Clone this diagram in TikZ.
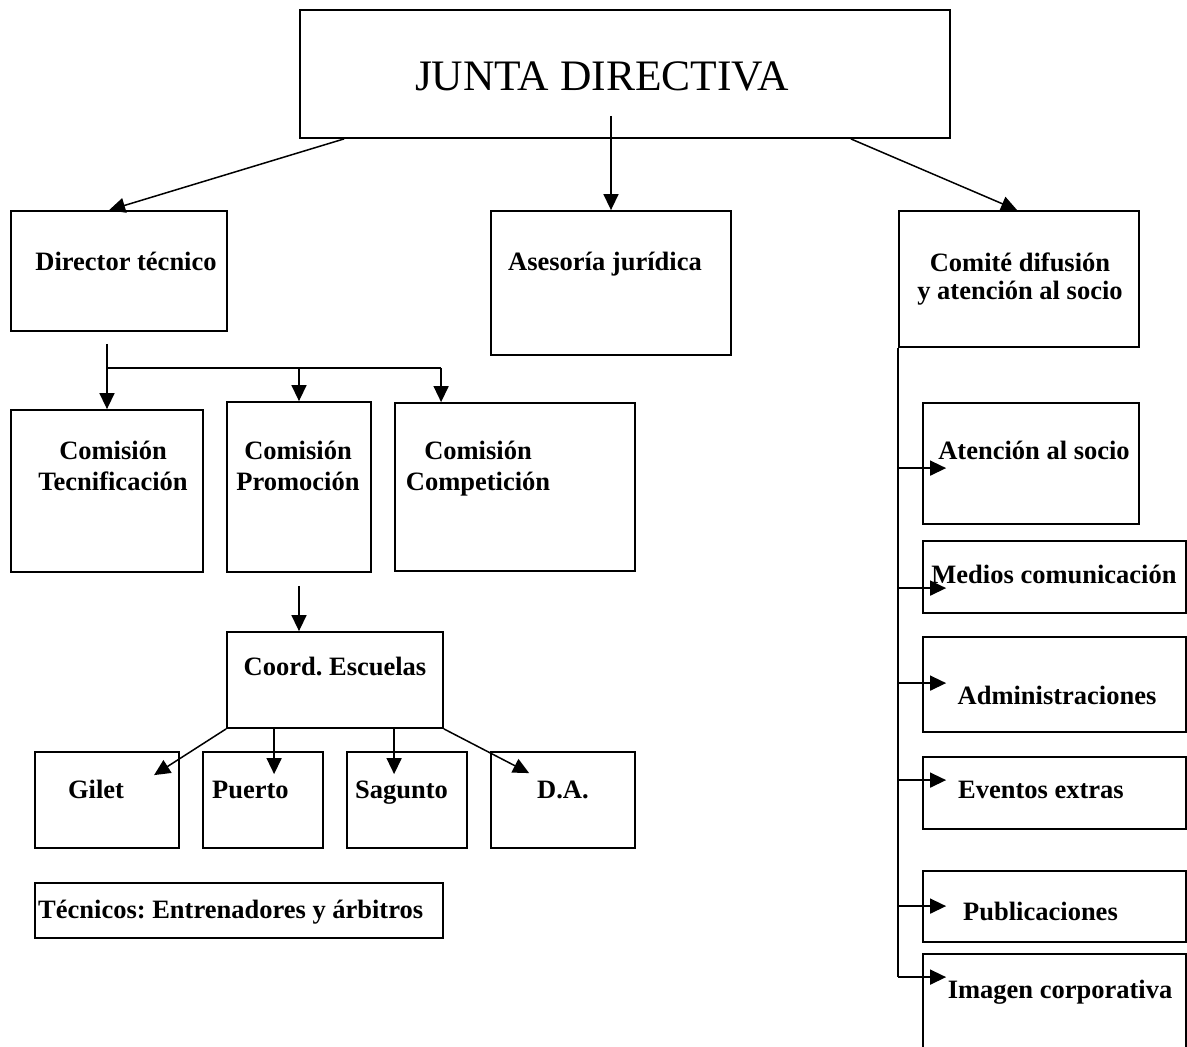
\documentclass[tikz,border=0pt]{standalone}
\usepackage{fontspec}
\setmainfont{Liberation Serif}
\usetikzlibrary{calc,arrows.meta}
\def\caja(#1)(#2,#3)(#4,#5){\node[caja, minimum width={(#4-#2)*1pt}, minimum height={(#5-#3)*1pt}] (#1) at ({(#2+#4)/2},{(#3+#5)/2}) {};}
\frenchspacing

\begin{document}
\begin{tikzpicture}[x=1pt, y=-1pt,
		caja/.style={draw, line width=1.8pt, inner sep=0pt},
		rotulo/.style={font=\bfseries\fontsize{26.5}{31}\selectfont, inner sep=0pt, align=center, anchor=base},
		flecha/.style={line width=1.5pt, -{Triangle[length=16pt,width=15pt]}}]
			%%%%% START %%%%%
			\useasboundingbox (0,0) rectangle (1187,1047);
			
			\caja(jd)(300,10)(950,138)
			\node[rotulo, font=\fontsize{43.5}{48}\selectfont] (jd-t) at (602,90) {JUNTA DIRECTIVA};
			
			\caja(dir)(11,211)(227,331)
			\caja(ase)(491,211)(731,355)
			\caja(com)(899,211)(1139,347)
			\node[rotulo] (dir-t) at (126,270) {Director técnico};
			\node[rotulo] (ase-t) at (605,270) {Asesoría jurídica};
			\node[rotulo, font=\bfseries\fontsize{26.5}{28}\selectfont] (com-t) at (1020,299) {Comité difusión\\y atención al socio};
			
			\draw[flecha] ($(jd.south west)+(45,0)$) -- ($(dir.north west)+(99,0)$);
			\draw[flecha] ($(jd.south -| ase.north)+(0,-23)$) -- (ase.north);
			\draw[flecha] ($(jd.south east)+(-100,0)$) -- ($(com.north west)+(119,0)$);
			
			\caja(tec)(11,410)(203,572)
			\caja(pro)(227,402)(371,572)
			\caja(comp)(395,403)(635,571)
			\node[rotulo] (tec-t) at (113,490) {Comisión\\Tecnificación};
			\node[rotulo] (pro-t) at (298,490) {Comisión\\Promoción};
			\node[rotulo] (comp-t) at (478,490) {Comisión\\Competición};
			
			\coordinate (bus) at ($(dir.south -| tec.north)+(0,36)$);
			\draw[line width=1.5pt] ($(bus)+(0,-24)$) -- (bus) -- ($(bus -| comp.north west)+(47,0)$);
			\draw[flecha] (bus) -- (tec.north);
			\draw[flecha] (bus -| pro.north) -- (pro.north);
			\draw[flecha] ($(bus -| comp.north west)+(47,0)$) -- ($(comp.north west)+(47,0)$);
			
			\caja(coo)(227,632)(443,728)
			\node[rotulo] (coo-t) at (335,675) {Coord. Escuelas};
			\draw[flecha] ($(pro.south)+(0,13)$) -- (pro.south |- coo.north);
			
			\caja(gil)(35,752)(179,848)
			\caja(pue)(203,752)(323,848)
			\caja(sag)(347,752)(467,848)
			\caja(da)(491,752)(635,848)
			\node[rotulo] (gil-t) at (96,798) {Gilet};
			\node[rotulo, anchor=base west] (pue-t) at (212,798) {Puerto};
			\node[rotulo, anchor=base west] (sag-t) at (355,798) {Sagunto};
			\node[rotulo] (da-t) at (563,798) {D.A.};
			
			\draw[flecha] (coo.south west) -- ($(gil.north west)+(120,24)$);
			\draw[flecha] ($(coo.south west)+(48,0)$) -- ($(pue.north west)+(72,23)$);
			\draw[flecha] ($(coo.south west)+(168,0)$) -- ($(sag.north west)+(48,23)$);
			\draw[flecha] (coo.south east) -- ($(da.north west)+(39,22)$);
			
			\caja(tcs)(35,883)(443,938)
			\node[rotulo, anchor=base west] (tcs-t) at (38,918) {Técnicos: Entrenadores y árbitros};
			
			\caja(ate)(923,403)(1139,524)
			\caja(med)(923,541)(1186,613)
			\caja(adm)(923,637)(1186,732)
			\caja(eve)(923,757)(1186,829)
			\caja(pub)(923,871)(1186,942)
			\caja(ima)(923,954)(1186,1070)
			\node[rotulo] (ate-t) at (1034,459) {Atención al socio};
			\node[rotulo] (med-t) at (1054,583) {Medios comunicación};
			\node[rotulo] (adm-t) at (1057,704) {Administraciones};
			\node[rotulo, anchor=base west] (eve-t) at (958,798) {Eventos extras};
			\node[rotulo, anchor=base west] (pub-t) at (963,920) {Publicaciones};
			\node[rotulo] (ima-t) at (1060,998) {Imagen corporativa};
			
			\draw[line width=1.5pt] (com.south west) -- ($(ima.north west)+(-24,24)$);
			\foreach \n/\d in {ate/66, med/48, adm/47, eve/24, pub/36, ima/24}
				\draw[flecha] ($(\n.north west)+(-24,\d)$) -- ++(48,0);
			
			%%%%% END %%%%%
\end{tikzpicture}
\end{document}
